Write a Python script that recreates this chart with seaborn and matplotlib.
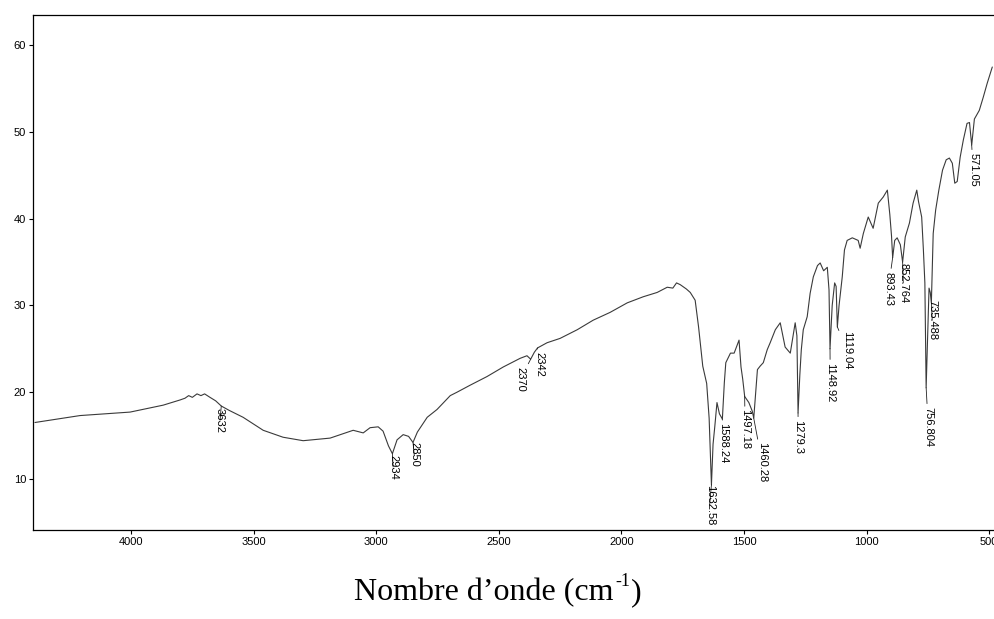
import numpy as np
import pandas as pd
import matplotlib
matplotlib.use("Agg")
import matplotlib.pyplot as plt
import seaborn as sns

# ---- data: FTIR spectrum (wavenumber cm-1, transmittance %) ----
wavenumber = [4392, 4208, 4004, 3869, 3800, 3780, 3765, 3750, 3731, 3715, 3700, 3678,
              3655, 3632, 3600, 3543, 3461, 3380, 3298, 3188, 3094, 3053, 3025, 2992,
              2972, 2950, 2934, 2915, 2890, 2868, 2850, 2832, 2792, 2752, 2698, 2670,
              2617, 2548, 2482, 2413, 2385, 2370, 2355, 2342, 2303, 2250, 2180, 2115,
              2046, 1976, 1911, 1854, 1813, 1790, 1775, 1760, 1735, 1719, 1699, 1685,
              1668, 1652, 1642, 1636, 1632.6, 1626, 1619, 1610, 1600, 1588, 1580, 1574,
              1555, 1540, 1520, 1512, 1505, 1497, 1480, 1466, 1460, 1452, 1445, 1434,
              1421, 1405, 1393, 1372, 1352, 1332, 1311, 1291, 1284, 1279.3, 1272, 1266,
              1258, 1242, 1230, 1217, 1200, 1189, 1175, 1160, 1153, 1148.9, 1140, 1130,
              1124, 1119, 1112, 1099, 1090, 1079, 1058, 1034, 1026, 1013, 993, 973,
              952, 932, 915, 905, 898, 893.4, 885, 875, 862, 852.8, 842, 825, 810,
              795, 788, 775, 768, 762, 756.8, 750, 745, 740, 735.5, 728, 718, 705,
              690, 675, 662, 650, 640, 630, 618, 605, 590, 580, 571, 560, 540, 524,
              508, 487]
transmittance = [16.5, 17.3, 17.7, 18.5, 19.1, 19.3, 19.6, 19.4, 19.8, 19.6, 19.8, 19.4,
                 19.0, 18.4, 17.9, 17.1, 15.6, 14.8, 14.4, 14.7, 15.6, 15.3, 15.9, 16.0,
                 15.5, 13.8, 12.9, 14.5, 15.1, 14.9, 14.2, 15.4, 17.1, 18.0, 19.6, 20.0,
                 20.8, 21.8, 22.9, 23.9, 24.2, 23.8, 24.6, 25.1, 25.7, 26.2, 27.2, 28.3,
                 29.2, 30.3, 31.0, 31.5, 32.1, 32.0, 32.6, 32.4, 31.9, 31.5, 30.6, 27.5,
                 23.0, 21.0, 17.0, 12.0, 9.3, 14.0, 16.0, 18.8, 17.5, 16.9, 21.1, 23.4,
                 24.5, 24.5, 26.0, 22.9, 21.5, 19.5, 18.8, 17.8, 17.0, 20.0, 22.6, 23.0,
                 23.4, 24.9, 25.7, 27.2, 28.0, 25.2, 24.5, 28.0, 26.5, 17.6, 22.0, 24.9,
                 27.2, 28.7, 31.4, 33.3, 34.6, 34.9, 34.0, 34.4, 31.8, 25.0, 30.0, 32.6,
                 32.2, 27.5, 30.0, 33.3, 36.4, 37.5, 37.8, 37.5, 36.6, 38.3, 40.2, 38.9,
                 41.8, 42.5, 43.3, 40.5, 38.0, 35.5, 37.5, 37.8, 37.0, 35.0, 37.9, 39.5,
                 41.8, 43.3, 42.0, 40.2, 36.4, 32.6, 20.5, 27.0, 32.0, 31.5, 30.3, 38.3,
                 41.0, 43.3, 45.6, 46.8, 47.0, 46.4, 44.1, 44.3, 47.1, 49.1, 51.0, 51.1,
                 48.5, 51.5, 52.5, 54.0, 55.6, 57.5]

# ---- peak annotations ----
peak_labels = ["3632", "2934", "2850", "2370", "2342", "1632.58", "1588.24", "1497.18",
               "1460.28", "1279.3", "1148.92", "1119.04", "893.43", "852.764", "735.488",
               "756.804", "571.05"]

# ---- tick labels ----
x_ticks = [4000, 3500, 3000, 2500, 2000, 1500, 1000, 500]
y_ticks = [10, 20, 30, 40, 50, 60]

# layout of annotation text (x in cm-1, y of text top in %)
label_pos_x = [3637, 2931, 2845, 2413, 2335, 1640, 1585, 1495, 1426, 1279, 1148, 1079,
               911, 850, 732, 748, 565]
label_pos_y = [18.2, 12.8, 14.2, 22.9, 24.6, 9.3, 16.4, 18.0, 14.2, 16.8, 23.4, 27.0,
               33.9, 34.9, 30.6, 18.3, 47.6]

df = pd.DataFrame({"wn": wavenumber, "T": transmittance})

sns.set_theme(style="white")
plt.rcParams["font.family"] = ["Liberation Sans", "DejaVu Sans"]

W, H = 994, 619
fig = plt.figure(figsize=(W / 100, H / 100), dpi=100)
ax = fig.add_axes([33 / W, 1 - 530 / H, (994 - 33) / W, (530 - 15) / H])

sns.lineplot(data=df, x="wn", y="T", ax=ax, sort=False, estimator=None,
             color="#3a3a3a", linewidth=0.8)

ax.set_xlim(4400, 480)
ax.set_ylim(4.1, 63.5)
ax.set_xticks(x_ticks)
ax.set_yticks(y_ticks)
ax.set_xlabel("")
ax.set_ylabel("")
ax.tick_params(axis="both", direction="out", length=3, width=0.8, labelsize=8,
               colors="black", bottom=True, left=True, pad=2)

for side in ["left", "top", "bottom"]:
    ax.spines[side].set_visible(True)
    ax.spines[side].set_color("black")
    ax.spines[side].set_linewidth(0.9)
ax.spines["right"].set_visible(False)

wn_sorted = np.array(wavenumber)[::-1]
t_sorted = np.array(transmittance)[::-1]
for lab, lx, ly in zip(peak_labels, label_pos_x, label_pos_y):
    pk = float(lab)
    ty = float(np.interp(pk, wn_sorted, t_sorted))
    ax.annotate(lab, xy=(pk, ty), xytext=(lx, ly), rotation=270,
                ha="center", va="top", fontsize=8, color="black",
                family=["Liberation Sans Narrow", "Liberation Sans", "DejaVu Sans"],
                arrowprops=dict(arrowstyle="-", lw=0.6, color="#222222",
                                shrinkA=0, shrinkB=0))

# x-axis title built from three pieces so the superscript uses a plain hyphen
serif = ["Liberation Serif", "DejaVu Serif"]
yb = 1 - 600 / H
t1 = fig.text(0, yb, "Nombre d’onde (cm", ha="left", va="baseline",
              fontsize=23, family=serif, color="black")
t2 = fig.text(0, yb, "-1", ha="left", va="baseline", fontsize=13, family=serif,
              color="black")
t3 = fig.text(0, yb, ")", ha="left", va="baseline", fontsize=23, family=serif,
              color="black")
fig.canvas.draw()
r = fig.canvas.get_renderer()
w1 = t1.get_window_extent(r).width
w2 = t2.get_window_extent(r).width
w3 = t3.get_window_extent(r).width
total = w1 + w2 + w3
x0 = 497 - total / 2
t1.set_x(x0 / W)
t2.set_x((x0 + w1 + 1) / W)
t2.set_y(yb + 14 / H)
t3.set_x((x0 + w1 + w2 + 2) / W)

fig.savefig("out.png", dpi=100)
